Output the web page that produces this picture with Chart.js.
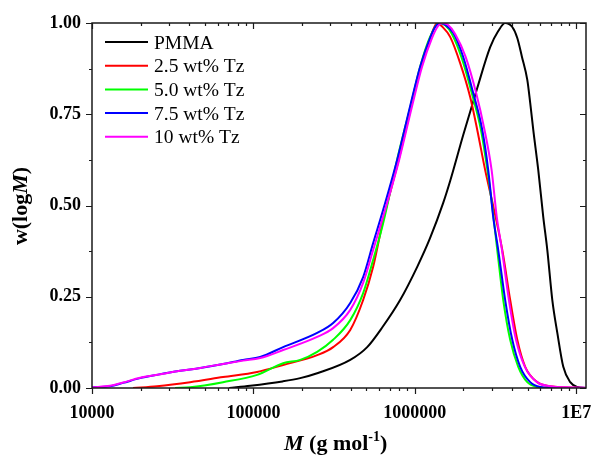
<!DOCTYPE html>
<html><head><meta charset="utf-8">
<script src="https://cdn.jsdelivr.net/npm/chart.js@4/dist/chart.umd.min.js"></script>
<style>html,body{margin:0;padding:0;background:#fff}</style>
</head><body>
<canvas id="c" width="592" height="460"></canvas>
<script>
const seriesNames = ["PMMA", "2.5 wt% Tz", "5.0 wt% Tz", "7.5 wt% Tz", "10 wt% Tz"];
const seriesColors = ["#000000", "#ff0000", "#00ff00", "#0000ff", "#ff00ff"];

// log10(M) positions and w(logM) values
const logM_PMMA = [4.85, 4.98, 5.18, 5.29, 5.40, 5.60, 5.705, 5.80, 5.909, 6.015, 6.095, 6.176, 6.219, 6.30, 6.387, 6.467, 6.517, 6.56, 6.604, 6.635, 6.664, 6.697, 6.715, 6.734, 6.765, 6.796, 6.821, 6.852, 6.883, 6.92, 6.963, 7.007, 7.06];
const w_PMMA    = [0.0, 0.006, 0.018, 0.027, 0.041, 0.077, 0.112, 0.167, 0.241, 0.332, 0.411, 0.507, 0.567, 0.693, 0.822, 0.934, 0.978, 1.0, 0.989, 0.959, 0.907, 0.844, 0.781, 0.707, 0.597, 0.468, 0.378, 0.241, 0.151, 0.058, 0.016, 0.003, 0.0];

const logM_25 = [4.254, 4.403, 4.608, 4.812, 5.023, 5.184, 5.395, 5.494, 5.60, 5.68, 5.742, 5.804, 5.90, 5.98, 6.04, 6.10, 6.139, 6.17, 6.219, 6.281, 6.343, 6.387, 6.436, 6.49, 6.542, 6.591, 6.635, 6.684, 6.759, 6.839, 7.06];
const w_25    = [0.0, 0.005, 0.016, 0.030, 0.044, 0.063, 0.090, 0.112, 0.159, 0.241, 0.332, 0.460, 0.625, 0.775, 0.885, 0.965, 1.0, 0.99, 0.962, 0.890, 0.797, 0.707, 0.597, 0.490, 0.378, 0.241, 0.132, 0.058, 0.016, 0.005, 0.0];

const logM_50 = [4.515, 4.608, 4.812, 5.023, 5.184, 5.29, 5.395, 5.494, 5.60, 5.68, 5.742, 5.798, 5.829, 5.89, 5.975, 6.036, 6.098, 6.15, 6.19, 6.23, 6.29, 6.355, 6.41, 6.45, 6.475, 6.511, 6.548, 6.591, 6.641, 6.697, 6.759, 6.85, 7.06];
const w_50    = [0.0, 0.002, 0.016, 0.036, 0.068, 0.077, 0.099, 0.132, 0.186, 0.260, 0.351, 0.441, 0.500, 0.625, 0.775, 0.885, 0.965, 1.0, 0.993, 0.970, 0.905, 0.805, 0.707, 0.597, 0.515, 0.378, 0.241, 0.132, 0.058, 0.016, 0.003, 0.0, 0.0];

const logM_75 = [4.0, 4.112, 4.192, 4.298, 4.403, 4.546, 4.67, 4.812, 4.936, 5.042, 5.184, 5.395, 5.494, 5.60, 5.68, 5.742, 5.804, 5.891, 5.971, 6.033, 6.095, 6.126, 6.157, 6.19, 6.238, 6.30, 6.362, 6.418, 6.455, 6.486, 6.517, 6.56, 6.604, 6.653, 6.715, 6.777, 6.85, 7.06];
const w_75    = [0.002, 0.005, 0.014, 0.027, 0.036, 0.047, 0.055, 0.066, 0.077, 0.085, 0.112, 0.151, 0.178, 0.233, 0.304, 0.397, 0.488, 0.625, 0.772, 0.880, 0.959, 0.989, 1.0, 0.995, 0.973, 0.907, 0.808, 0.707, 0.597, 0.468, 0.378, 0.241, 0.132, 0.058, 0.016, 0.003, 0.001, 0.0];

const logM_10 = [4.0, 4.112, 4.192, 4.298, 4.403, 4.546, 4.67, 4.812, 4.936, 5.042, 5.184, 5.395, 5.494, 5.60, 5.68, 5.742, 5.816, 5.903, 5.983, 6.045, 6.107, 6.14, 6.17, 6.205, 6.25, 6.315, 6.38, 6.432, 6.476, 6.508, 6.54, 6.583, 6.627, 6.682, 6.757, 6.839, 6.95, 7.06];
const w_10    = [0.002, 0.006, 0.015, 0.028, 0.036, 0.047, 0.055, 0.066, 0.075, 0.082, 0.104, 0.140, 0.164, 0.214, 0.288, 0.378, 0.488, 0.625, 0.772, 0.880, 0.959, 0.989, 1.0, 0.995, 0.970, 0.907, 0.808, 0.707, 0.597, 0.468, 0.378, 0.241, 0.132, 0.058, 0.016, 0.005, 0.002, 0.001];

const xMajorTicks = [1e4, 1e5, 1e6, 1e7];
const xTickLabels = ["10000", "100000", "1000000", "1E7"];
const yMajorTicks = [0, 0.25, 0.5, 0.75, 1];
const yTickLabels = ["0.00", "0.25", "0.50", "0.75", "1.00"];

const xs = [logM_PMMA, logM_25, logM_50, logM_75, logM_10];
const ys = [w_PMMA, w_25, w_50, w_75, w_10];

const xMinorTicks = [];
[1e4, 1e5, 1e6].forEach(d => { for (let k = 2; k <= 9; k++) xMinorTicks.push(d * k); });

const FONT = "'Liberation Serif', 'Times New Roman', serif";

const datasets = seriesNames.map((name, i) => ({
  label: name,
  data: xs[i].map((lx, j) => ({ x: Math.pow(10, lx), y: ys[i][j] })),
  borderColor: seriesColors[i],
  backgroundColor: seriesColors[i],
  borderWidth: 2,
  pointRadius: 0,
  fill: false,
  cubicInterpolationMode: 'monotone',
  order: 5 - i
}));

const decor = {
  id: 'decor',
  afterDatasetsDraw(chart) {
    const ctx = chart.ctx, a = chart.chartArea;
    const sx = chart.scales.x, sy = chart.scales.y;
    ctx.save();
    ctx.strokeStyle = '#1a1a1a';
    ctx.lineWidth = 1.5;
    ctx.strokeRect(a.left, a.top, a.right - a.left, a.bottom - a.top);
    ctx.lineWidth = 1.2;
    ctx.beginPath();
    const allX = xMajorTicks.map(v => [v, true]).concat(xMinorTicks.map(v => [v, false]));
    allX.forEach(([v, maj]) => {
      const px = Math.round(sx.getPixelForValue(v)) + 0.5;
      const L = maj ? 6 : 3;
      ctx.moveTo(px, a.bottom); ctx.lineTo(px, a.bottom + L);
      ctx.moveTo(px, a.top); ctx.lineTo(px, a.top + L);
    });
    for (let k = 0; k <= 8; k++) {
      const v = k * 0.125, maj = k % 2 === 0;
      const py = Math.round(sy.getPixelForValue(v)) + 0.5;
      const L = maj ? 6 : 3;
      ctx.moveTo(a.left, py); ctx.lineTo(a.left - L, py);
      ctx.moveTo(a.right, py); ctx.lineTo(a.right - L, py);
    }
    ctx.stroke();

    // legend
    ctx.textBaseline = 'alphabetic';
    ctx.textAlign = 'left';
    ctx.font = '19.5px ' + FONT;
    seriesNames.forEach((n, i) => {
      const y = 42 + i * 23.7;
      ctx.strokeStyle = seriesColors[i];
      ctx.lineWidth = 2;
      ctx.beginPath(); ctx.moveTo(105, y); ctx.lineTo(148, y); ctx.stroke();
      ctx.fillStyle = '#000';
      ctx.fillText(n, 154, y + 6.5);
    });

    // x title
    const fB = 'bold 22px ' + FONT, fBI = 'italic bold 22px ' + FONT, fS = 'bold 14px ' + FONT;
    const parts = [['M', fBI, 0], [' (g mol', fB, 0], ['-1', fS, -9], [')', fB, 0]];
    let x0 = 284;
    ctx.fillStyle = '#000';
    parts.forEach(p => { ctx.font = p[1]; ctx.fillText(p[0], x0, 450 + p[2]); x0 += ctx.measureText(p[0]).width; });

    // y title
    const yparts = [['w(log', fB], ['M', fBI], [')', fB]];
    let ytot = 0;
    yparts.forEach(p => { ctx.font = p[1]; ytot += ctx.measureText(p[0]).width; });
    ctx.translate(27, 206);
    ctx.rotate(-Math.PI / 2);
    let y0 = -ytot / 2;
    yparts.forEach(p => { ctx.font = p[1]; ctx.fillText(p[0], y0, 0); y0 += ctx.measureText(p[0]).width; });
    ctx.restore();
  }
};

new Chart(document.getElementById('c'), {
  type: 'line',
  data: { datasets },
  options: {
    responsive: false,
    animation: false,
    layout: { padding: { top: 23, right: 6, left: 0, bottom: 0 } },
    plugins: { legend: { display: false }, tooltip: { enabled: false } },
    scales: {
      x: {
        type: 'logarithmic',
        min: 1e4, max: 1.15e7,
        afterBuildTicks: s => { s.ticks = xMajorTicks.map(v => ({ value: v })); },
        afterFit: s => { s.height = 72; s.paddingLeft = 0; s.paddingRight = 0; },
        grid: { display: false, drawTicks: false },
        border: { display: false },
        ticks: {
          autoSkip: false, maxRotation: 0, minRotation: 0, padding: 15,
          color: '#000', font: { family: FONT, size: 18, weight: 'bold' },
          callback: (v) => { const i = xMajorTicks.indexOf(v); return i >= 0 ? xTickLabels[i] : ''; }
        }
      },
      y: {
        min: 0, max: 1,
        afterBuildTicks: s => { s.ticks = yMajorTicks.map(v => ({ value: v })); },
        afterFit: s => { s.width = 92; s.paddingTop = 0; s.paddingBottom = 0; },
        grid: { display: false, drawTicks: false },
        border: { display: false },
        ticks: {
          padding: 11, color: '#000', font: { family: FONT, size: 18, weight: 'bold' },
          callback: (v) => { const i = yMajorTicks.indexOf(v); return i >= 0 ? yTickLabels[i] : ''; }
        }
      }
    }
  },
  plugins: [decor]
});
</script>
</body></html>
